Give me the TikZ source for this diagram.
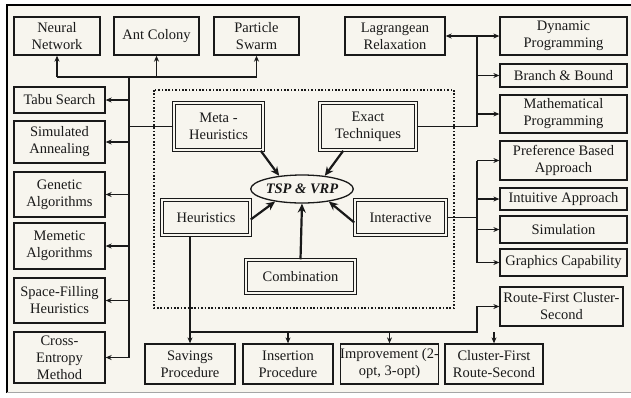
\documentclass[tikz,border=0pt]{standalone}
\usepackage{fontspec}
\setmainfont{Liberation Serif}
\usetikzlibrary{shapes.geometric,arrows.meta}
\definecolor{bg}{RGB}{247,245,238}
\definecolor{ink}{RGB}{25,25,25}
\newcommand\fs{\fontsize{14.5}{17}\selectfont}
\tikzset{
  box/.style={draw=ink, line width=1.3pt, fill=bg, inner sep=0pt, align=center, font=\fs, text=ink},
  dbox/.style={box, double=bg, double distance=1.6pt, line width=1.1pt},
  arr/.style={-{Stealth[length=6pt,width=5pt]}, line width=1.1pt, draw=ink},
  darr/.style={{Stealth[length=6pt,width=5pt]}-{Stealth[length=6pt,width=5pt]}, line width=1.1pt, draw=ink},
  ln/.style={line width=1.1pt, draw=ink},
  barr/.style={-{Stealth[length=9pt,width=8pt]}, line width=2.2pt, draw=ink}
}
\begin{document}
\begin{tikzpicture}[x=1pt,y=-1pt]
\useasboundingbox (0,0) rectangle (631,397);
\fill[white] (0,0) rectangle (631,397);
\fill[bg] (7,5) rectangle (631,393);
\draw[black, line width=1.5pt] (7,393) -- (7,5) -- (631,5);
\draw[black!35, line width=1pt] (7,392.5) -- (631,392.5);
% dotted frame
\draw[ink, line width=2.4pt, dash pattern=on 1.6pt off 1.8pt] (154,90) rectangle (454,308);
% top left boxes
\node[box, minimum width=86pt, minimum height=38pt] (nn) at (57,36) {Neural\\Network};
\node[box, minimum width=85pt, minimum height=38pt] (ac) at (156.5,36) {Ant Colony};
\node[box, minimum width=85pt, minimum height=38pt] (ps) at (256.5,36) {Particle\\Swarm};
% left column
\node[box, minimum width=91pt, minimum height=26pt] (tabu) at (59.5,100) {Tabu Search};
\node[box, minimum width=91pt, minimum height=42pt] (sa) at (59.5,142) {Simulated\\Annealing};
\node[box, minimum width=91pt, minimum height=45pt] (ga) at (59.5,194.5) {Genetic\\Algorithms};
\node[box, minimum width=91pt, minimum height=46pt] (ma) at (59.5,246) {Memetic\\Algorithms};
\node[box, minimum width=91pt, minimum height=45pt] (sf) at (59.5,300.5) {Space-Filling\\Heuristics};
\node[box, minimum width=91pt, minimum height=51pt] (ce) at (59.5,357.5) {Cross-\\Entropy\\Method};
% right column
\node[box, minimum width=100pt, minimum height=38pt] (lr) at (395,36) {Lagrangean\\Relaxation};
\node[box, minimum width=127pt, minimum height=38pt] (dp) at (563.5,36) {Dynamic\\Programming};
\node[box, minimum width=127pt, minimum height=23pt] (bb) at (563.5,75.5) {Branch \& Bound};
\node[box, minimum width=127pt, minimum height=38pt] (mp) at (563.5,114) {Mathematical\\Programming};
\node[box, minimum width=127pt, minimum height=39pt] (pba) at (563.5,160.5) {Preference Based\\Approach};
\node[box, minimum width=127pt, minimum height=22pt] (ia) at (563.5,199) {Intuitive Approach};
\node[box, minimum width=127pt, minimum height=27pt] (sim) at (563.5,229.5) {Simulation};
\node[box, minimum width=127pt, minimum height=27pt] (gc) at (563.5,262.5) {Graphics Capability};
\node[box, minimum width=123pt, minimum height=39pt] (rf) at (561.5,306.5) {Route-First Cluster-\\Second};
% bottom row
\node[box, minimum width=90pt, minimum height=40pt] (sp) at (190,364) {Savings\\Procedure};
\node[box, minimum width=90pt, minimum height=40pt] (ip) at (288,364) {Insertion\\Procedure};
\node[box, minimum width=97pt, minimum height=40pt] (imp) at (389.5,364) {Improvement (2-\\opt, 3-opt)};
\node[box, minimum width=98pt, minimum height=40pt] (cf) at (494,364) {Cluster-First\\Route-Second};
% centre
\node[dbox, minimum width=89.4pt, minimum height=47.4pt] (meta) at (218.5,126.5) {Meta -\\Heuristics};
\node[dbox, minimum width=96.4pt, minimum height=47.4pt] (exact) at (368,126.5) {Exact\\Techniques};
\node[dbox, minimum width=88.4pt, minimum height=35.4pt] (heur) at (206,217.5) {Heuristics};
\node[dbox, minimum width=91.4pt, minimum height=35.4pt] (inter) at (400.5,217.5) {Interactive};
\node[dbox, minimum width=109.4pt, minimum height=33.4pt] (comb) at (300.5,276.5) {Combination};
\node[ellipse, draw=ink, line width=1.3pt, fill=bg, inner sep=0pt, minimum width=86pt, minimum height=28pt, font=\fs\bfseries\itshape, text=ink] (tsp) at (302,189) {TSP \& VRP};
% thick arrows
\draw[barr] ([xshift=-3pt]meta.south east) -- (tsp.150);
\draw[barr] ([xshift=24pt]exact.south west) -- (tsp.30);
\draw[barr] ([yshift=-2pt]heur.east) -- (tsp.205);
\draw[barr] ([yshift=-5pt]inter.west) -- (tsp.-25);
\draw[barr] (comb.north) -- (tsp.south);
% left tree
\coordinate (lt) at (129,77);
\draw[ln] (nn.south |- lt) -- (ps.south |- lt);
\draw[arr] (nn.south |- lt) -- (nn.south);
\draw[arr] (ac.south |- lt) -- (ac.south);
\draw[arr] (ps.south |- lt) -- (ps.south);
\draw[ln] (lt) -- (lt |- ce.east);
\draw[ln] (meta.west) -- (meta.west -| lt);
\foreach \n in {tabu,sa,ga,ma,sf,ce} \draw[arr] (\n.east -| lt) -- (\n.east);
% exact tree
\coordinate (rx) at (477,36);
\draw[darr] (lr.east) -- (dp.west);
\draw[ln] (exact.east) -- (exact.east -| rx) -- (rx);
\draw[arr] (bb.west -| rx) -- (bb.west);
\draw[arr] (mp.west -| rx) -- (mp.west);
% interactive tree
\draw[ln] (inter.east) -- (inter.east -| rx);
\draw[ln] (pba.west -| rx) -- (gc.west -| rx);
\foreach \n in {pba,ia,sim,gc} \draw[arr] (\n.west -| rx) -- (\n.west);
% bottom tree
\coordinate (by) at (0,332);
\draw[arr] (heur.south -| sp.north) -- (sp.north);
\draw[arr] (sp.north |- by) -- (rx |- by) -- (rx |- rf.west) -- (rf.west);
\draw[arr] (ip.north |- by) -- (ip.north);
\draw[arr] (imp.north |- by) -- (imp.north);
\draw[arr] (cf.north |- by) -- (cf.north);
\end{tikzpicture}
\end{document}
